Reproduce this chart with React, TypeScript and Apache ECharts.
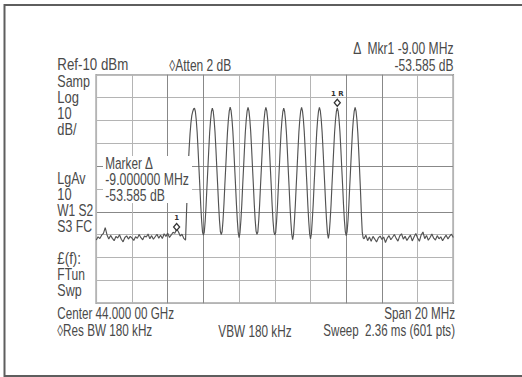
import React, { useEffect, useRef } from "react";
import * as echarts from "echarts";

// Sweep: -10 MHz .. +10 MHz around the centre frequency (dBm values)
const NOISE_LEFT_START = -10; // MHz
const NOISE_STEP = 0.1; // MHz
const NOISE_LEFT = [
  -82.3, -80.9, -81.7, -80.2, -79.4, -76.9, -80.1, -81.9, -80.3, -81.6,
  -82.6, -80.8, -81.4, -80.0, -82.0, -83.1, -81.2, -80.5, -81.9, -80.7,
  -81.5, -82.5, -80.9, -81.6, -79.9, -81.3, -82.2, -80.6, -81.0, -79.7,
  -81.8, -80.4, -82.0, -80.9, -79.8, -81.5, -80.2, -81.7, -79.6, -80.8,
  -79.3, -81.2, -80.1, -78.9, -79.4, -77.5, -78.7, -80.6, -79.8, -81.6,
  -82.4,
];

const SIGNAL_START = -4.95; // MHz
const SIGNAL_STEP = 0.05; // MHz
const SIGNAL = [
  // lobe -4.5 MHz
  -71.0, -60.5, -50.0, -42.5, -36.0, -31.2, -27.9, -26.2, -25.0, -24.6,
  -26.1, -29.8, -35.2, -42.6, -50.8, -58.7, -67.0, -73.8, -78.8, -80.2,
  // lobe -3.5 MHz
  -78.9, -74.0, -67.2, -58.9, -51.0, -42.9, -35.4, -30.0, -26.2, -24.6,
  -26.0, -29.7, -35.0, -42.4, -50.6, -58.5, -66.8, -73.6, -78.6, -80.0,
  // lobe -2.5 MHz
  -78.6, -73.6, -66.8, -58.5, -50.6, -42.5, -35.0, -29.6, -25.8, -24.2,
  -25.7, -29.4, -34.8, -42.2, -50.4, -58.3, -66.6, -73.6, -79.0, -81.3,
  // lobe -1.5 MHz
  -79.1, -73.8, -67.0, -58.6, -50.7, -42.6, -35.1, -29.7, -25.9, -24.3,
  -25.8, -29.5, -34.9, -42.3, -50.5, -58.4, -66.7, -73.5, -78.4, -79.8,
  // lobe -0.5 MHz
  -78.8, -73.7, -66.9, -58.5, -50.6, -42.5, -35.0, -29.6, -25.9, -24.3,
  -25.8, -29.5, -35.0, -42.4, -50.7, -58.6, -67.0, -73.9, -78.7, -80.1,
  // lobe 0.5 MHz
  -79.0, -74.1, -67.3, -58.9, -51.0, -42.8, -35.3, -29.9, -26.2, -24.6,
  -26.1, -29.8, -35.3, -42.7, -51.0, -58.9, -67.4, -74.4, -79.8, -82.2,
  // lobe 1.5 MHz
  -79.9, -73.9, -67.0, -58.6, -50.7, -42.6, -35.1, -29.7, -25.9, -24.3,
  -25.8, -29.5, -34.9, -42.3, -50.5, -58.4, -66.9, -74.0, -79.5, -81.8,
  // lobe 2.5 MHz
  -79.6, -73.7, -66.9, -58.5, -50.6, -42.5, -35.0, -29.6, -25.9, -24.3,
  -25.8, -29.5, -35.0, -42.4, -50.6, -58.5, -66.8, -73.9, -79.3, -81.6,
  // lobe 3.5 MHz
  -79.3, -73.9, -67.1, -58.7, -50.8, -42.7, -35.2, -29.8, -26.1, -24.5,
  -26.0, -29.7, -35.1, -42.5, -50.7, -58.6, -67.0, -73.8, -78.6, -80.4,
  // lobe 4.5 MHz
  -78.8, -73.8, -66.9, -58.5, -50.6, -42.5, -35.0, -29.6, -25.9, -24.3,
  -25.9, -29.7, -35.4, -43.2, -51.7, -60.7, -70.8, -79.0, -81.4,
];

const NOISE_RIGHT_START = 5.0; // MHz
const NOISE_RIGHT = [
  -81.8, -80.2, -82.6, -81.0, -82.9, -80.7, -81.9, -83.2, -81.4, -80.6,
  -82.1, -81.0, -83.4, -81.5, -80.4, -82.2, -81.1, -79.9, -81.6, -82.8,
  -80.5, -79.6, -81.9, -80.7, -82.5, -81.3, -80.2, -82.7, -81.0, -79.5,
  -81.4, -82.9, -80.1, -78.8, -81.7, -80.3, -82.4, -81.2, -79.7, -81.5,
  -82.3, -80.4, -81.8, -80.9, -82.6, -81.3, -80.2, -81.9, -80.6, -79.8,
  -81.2,
];

const SPAN_MIN = -10;
const SPAN_MAX = 10;
const FREQ_DIV = 2;
const REF_LEVEL = -10;
const BOTTOM_LEVEL = -110;
const DB_DIV = 10;

const MARKER_REF_FREQ = 3.5;
const MARKER_1_FREQ = -5.5;

const TOP_RIGHT = ["\u0394  Mkr1 -9.00 MHz", "-53.585 dB"];
const TOP_LEFT = ["Ref-10 dBm", "\u25CAAtten 2 dB"];
const SIDE_LABELS_A = ["Samp", "Log", "10", "dB/"];
const SIDE_LABELS_B = ["LgAv", "10", "W1 S2", "S3 FC"];
const SIDE_LABELS_C = ["\u00A3(f):", "FTun", "Swp"];
const MARKER_BOX = ["Marker \u0394", "-9.000000 MHz", "-53.585 dB"];
const BOTTOM_ROW1 = ["Center 44.000 00 GHz", "Span 20 MHz"];
const BOTTOM_ROW2 = ["\u25CARes BW 180 kHz", "VBW 180 kHz", "Sweep  2.36 ms (601 pts)"];

const r2 = (v: number) => Math.round(v * 1000) / 1000;

function buildTrace(): [number, number][] {
  const pts: [number, number][] = [];
  NOISE_LEFT.forEach((v, i) => pts.push([r2(NOISE_LEFT_START + i * NOISE_STEP), v]));
  SIGNAL.forEach((v, i) => pts.push([r2(SIGNAL_START + i * SIGNAL_STEP), v]));
  NOISE_RIGHT.forEach((v, i) => pts.push([r2(NOISE_RIGHT_START + i * NOISE_STEP), v]));
  return pts;
}

const FONT = '15px "Liberation Sans", Arial, sans-serif';
const TEXT_COLOR = "#4a4a4a";
const DEFAULT_NARROW = 0.82;

let measureCtx: CanvasRenderingContext2D | null = null;
function measure(text: string): number {
  if (!measureCtx) {
    const c = document.createElement("canvas");
    measureCtx = c.getContext("2d");
  }
  if (!measureCtx) return 0;
  measureCtx.font = FONT;
  return measureCtx.measureText(text).width;
}

// width: visual width of the text in the reference (layout only)
function txt(text: string, x: number, y: number, width: number, align: string = "left") {
  const natural = measure(text);
  let sx = natural > 0 ? width / natural : DEFAULT_NARROW;
  if (!(sx > 0.6 && sx < 1.1)) sx = DEFAULT_NARROW;
  return {
    type: "text",
    x,
    y,
    scaleX: sx,
    scaleY: 1.04,
    z: 110,
    silent: true,
    style: {
      text,
      font: FONT,
      fill: TEXT_COLOR,
      textAlign: align,
      textVerticalAlign: "middle",
      align,
      verticalAlign: "middle",
    },
  };
}

export default function App() {
  const ref = useRef<HTMLDivElement>(null);

  useEffect(() => {
    if (!ref.current) return;
    const chart = echarts.init(ref.current, undefined, { renderer: "svg" });
    const trace = buildTrace();
    const valueAt = (f: number) => {
      let best = trace[0];
      for (const p of trace) if (Math.abs(p[0] - f) < Math.abs(best[0] - f)) best = p;
      return best[1];
    };

    const light = "#b4b4b4";
    const dark = "#888888";
    const xColors = [light, light, dark, dark, light, light, light, dark, dark, light, light];
    const yColors = [light, light, light, light, dark, light, dark, light, light, light, light];

    const sideW_A = [32.7, 21.7, 14.3, 19.3];
    const sideW_B = [28.3, 14.3, 36, 34.7];
    const sideW_C = [23.7, 27.7, 24.3];
    const boxW = [47.7, 83.7, 59.7];

    const graphic: any[] = [
      {
        type: "rect",
        z: 90,
        silent: true,
        shape: { x: 4.5, y: 5, width: 540, height: 371 },
        style: { fill: "none", stroke: "#5e5e5e", lineWidth: 2 },
      },
      {
        type: "rect",
        z: 100,
        silent: true,
        shape: { x: 103, y: 156, width: 89, height: 47 },
        style: { fill: "#ffffff" },
      },
      txt(TOP_RIGHT[0], 453.5, 48.5, 101, "right"),
      txt(TOP_RIGHT[1], 453.5, 65, 59, "right"),
      txt(TOP_LEFT[0], 57.3, 65, 71),
      txt(TOP_LEFT[1], 169.3, 65, 62),
      ...SIDE_LABELS_A.map((s, i) => txt(s, 57.3, 81.7 + i * 16.1, sideW_A[i])),
      ...SIDE_LABELS_B.map((s, i) => txt(s, 57.3, 178 + i * 16.1, sideW_B[i])),
      ...SIDE_LABELS_C.map((s, i) => txt(s, 57.3, 258.3 + i * 16, sideW_C[i])),
      ...MARKER_BOX.map((s, i) => txt(s, 105.3, 163.5 + i * 16.2, boxW[i])),
      txt(BOTTOM_ROW1[0], 57.3, 314, 116.7),
      txt(BOTTOM_ROW1[1], 455, 314, 70.7, "right"),
      txt(BOTTOM_ROW2[0], 57.3, 331, 95),
      txt(BOTTOM_ROW2[1], 218.3, 331, 73.3),
      txt(BOTTOM_ROW2[2], 455, 331, 131.7, "right"),
    ];

    const option: any = {
      animation: false,
      backgroundColor: "#ffffff",
      grid: {
        left: 96.3,
        top: 74.7,
        width: 357,
        height: 228.6,
        show: true,
        backgroundColor: "#ffffff",
        borderColor: "#7a7a7a",
        borderWidth: 1.5,
      },
      xAxis: {
        type: "value",
        min: SPAN_MIN,
        max: SPAN_MAX,
        interval: FREQ_DIV,
        axisLine: { show: false },
        axisTick: { show: false },
        axisLabel: { show: false },
        splitLine: { show: true, lineStyle: { color: xColors, width: 1 } },
      },
      yAxis: {
        type: "value",
        min: BOTTOM_LEVEL,
        max: REF_LEVEL,
        interval: DB_DIV,
        axisLine: { show: false },
        axisTick: { show: false },
        axisLabel: { show: false },
        splitLine: { show: true, lineStyle: { color: yColors, width: 1 } },
      },
      series: [
        {
          type: "line",
          data: trace,
          symbol: "none",
          silent: true,
          lineStyle: { color: "#525252", width: 1.15 },
          markPoint: {
            silent: true,
            data: [
              {
                coord: [MARKER_REF_FREQ, valueAt(MARKER_REF_FREQ)],
                symbol: "diamond",
                symbolSize: [6, 7],
                symbolOffset: [0, -5],
                itemStyle: { color: "#ffffff", borderColor: "#333", borderWidth: 1.3 },
                label: {
                  show: true,
                  position: "top",
                  distance: 1,
                  formatter: "1 R",
                  fontSize: 7,
                  fontWeight: "bold",
                  color: "#333",
                  fontFamily: "DejaVu Sans",
                },
              },
              {
                coord: [MARKER_1_FREQ, valueAt(MARKER_1_FREQ)],
                symbol: "diamond",
                symbolSize: [6, 7],
                symbolOffset: [0, -2],
                itemStyle: { color: "#ffffff", borderColor: "#333", borderWidth: 1.3 },
                label: {
                  show: true,
                  position: "top",
                  distance: 1,
                  formatter: "1",
                  fontSize: 7,
                  fontWeight: "bold",
                  color: "#333",
                  fontFamily: "DejaVu Sans",
                },
              },
            ],
          },
        },
      ],
      graphic,
    };

    chart.setOption(option);
    return () => chart.dispose();
  }, []);

  return (
    <div
      ref={ref}
      style={{ position: "absolute", left: 0, top: 0, width: 522, height: 377, background: "#fff" }}
    />
  );
}
